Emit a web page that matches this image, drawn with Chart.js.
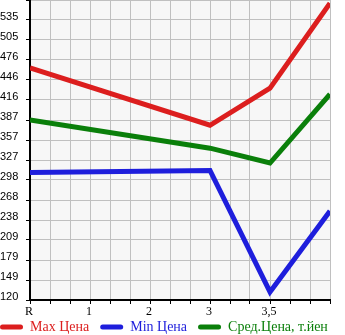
<!DOCTYPE html>
<html lang="ru">
<head>
    <meta charset="UTF-8">
    <title>Цены</title>
    <script src="https://cdn.jsdelivr.net/npm/chart.js"></script>
    <style>
        html, body { margin: 0; padding: 0; background: #fff; }
        #priceChart { display: block; }
    </style>
</head>
<body>
    <canvas id="priceChart" width="345" height="335"></canvas>

    <script>
        // axis labels
        const xLabels = ['R', '1', '2', '3', '3,5', ''];
        const yLabels = [120, 149, 179, 209, 238, 268, 298, 327, 357, 387, 416, 446, 476, 505, 535];

        // where the points sit (one entry per point)
        const pointCats = ['R', '3', '3,5', ''];
        const maxPrice = [464, 379, 434, 560];
        const minPrice = [309, 312, 132, 252];
        const avgPrice = [387, 345, 323, 425];

        const seriesNames = ['Max Цена', 'Min Цена', 'Сред.Цена, т.йен'];
        const seriesColors = ['#dc1e1e', '#1e1edc', '#0a7f0a'];

        const sub = 3; // minor grid steps per labelled step
        const yMin = yLabels[0];
        const yStep = (yLabels[yLabels.length - 1] - yMin) / (yLabels.length - 1);
        const yMax = yMin + yLabels.length * yStep;

        function toPoints(values) {
            return values.map(function (v, i) {
                return { x: xLabels.indexOf(pointCats[i]) * sub, y: v };
            });
        }

        // grey plot background
        const plotBg = {
            id: 'plotBg',
            beforeDraw(chart) {
                const a = chart.chartArea;
                const ctx = chart.ctx;
                ctx.save();
                ctx.fillStyle = '#f7f7f7';
                ctx.fillRect(a.left, a.top, a.right - a.left, a.bottom - a.top);
                ctx.restore();
            }
        };

        // legend sits flush left in one row, just under the axis labels
        const legendPlace = {
            id: 'legendPlace',
            afterLayout(chart) {
                const lg = chart.legend;
                const pad = lg.options.labels.padding;
                lg.left = -pad;
                lg.right = chart.width + 100; // never wrap
                lg.top = 309;
                lg.bottom = 335;
            }
        };

        function noPad(scale) {
            scale.paddingTop = 0;
            scale.paddingBottom = 0;
            scale.paddingLeft = 0;
            scale.paddingRight = 0;
        }

        const series = [maxPrice, minPrice, avgPrice];
        const datasets = series.map(function (vals, i) {
            return {
                label: seriesNames[i],
                data: toPoints(vals),
                borderColor: seriesColors[i],
                backgroundColor: seriesColors[i],
                borderWidth: 5,
                pointRadius: 0,
                fill: false,
                tension: 0
            };
        });

        new Chart(document.getElementById('priceChart'), {
            type: 'line',
            data: { datasets: datasets },
            options: {
                responsive: false,
                animation: false,
                layout: { padding: 0 },
                plugins: {
                    tooltip: { enabled: false },
                    legend: {
                        position: 'bottom',
                        align: 'start',
                        maxHeight: 15,
                        labels: {
                            boxWidth: 23,
                            boxHeight: 5,
                            padding: 11,
                            useBorderRadius: true,
                            borderRadius: 2.5,
                            font: { family: 'Liberation Serif', size: 14 },
                            generateLabels(chart) {
                                const items = Chart.defaults.plugins.legend.labels.generateLabels(chart);
                                items.forEach(function (it, i) {
                                    it.fontColor = seriesColors[i];
                                    it.lineWidth = 0;
                                    it.strokeStyle = 'rgba(0,0,0,0)';
                                    it.borderRadius = 2.5;
                                });
                                return items;
                            }
                        }
                    }
                },
                scales: {
                    x: {
                        type: 'linear',
                        min: 0,
                        max: (xLabels.length - 1) * sub,
                        afterFit(scale) { scale.height = 20; noPad(scale); },
                        grid: { color: '#c0c0c0', tickColor: '#000', tickLength: 4 },
                        border: { color: '#000', width: 2 },
                        ticks: {
                            stepSize: 1,
                            autoSkip: false,
                            maxRotation: 0,
                            padding: 1,
                            labelOffset: -1,
                            color: '#000',
                            font: { family: 'Liberation Serif', size: 12 },
                            callback(v) {
                                return v % sub === 0 ? xLabels[v / sub] : '';
                            }
                        }
                    },
                    y: {
                        type: 'linear',
                        min: yMin,
                        max: yMax,
                        afterBuildTicks(scale) {
                            const t = [];
                            for (let i = 0; i <= yLabels.length; i++) t.push({ value: yMin + i * yStep });
                            scale.ticks = t;
                        },
                        afterFit(scale) { scale.width = 30; noPad(scale); },
                        grid: { color: '#c0c0c0', tickColor: '#000', tickLength: 4 },
                        border: { color: '#000', width: 2 },
                        ticks: {
                            crossAlign: 'far',
                            labelOffset: -3,
                            color: '#000',
                            font: { family: 'Liberation Sans', size: 11 },
                            callback(v, i) {
                                return i < yLabels.length ? String(yLabels[i]) : '';
                            }
                        }
                    },
                    // empty strip on the right, keeps the plot off the edge
                    yRight: {
                        position: 'right',
                        display: true,
                        afterFit(scale) { scale.width = 15; noPad(scale); },
                        grid: { display: false },
                        border: { display: false },
                        ticks: { display: false }
                    }
                }
            },
            plugins: [plotBg, legendPlace]
        });
    </script>
</body>
</html>
